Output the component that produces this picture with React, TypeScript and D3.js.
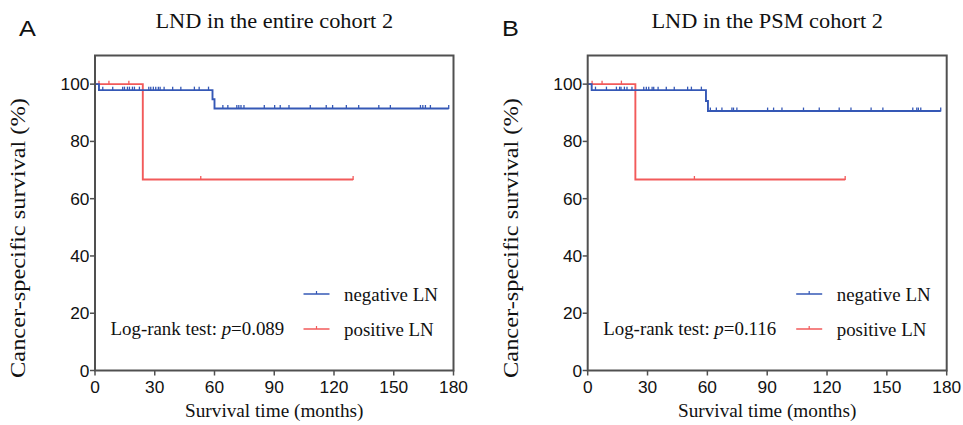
import React from "react";
import * as d3 from "d3";

const X_TICKS = [0, 30, 60, 90, 120, 150, 180];
const Y_TICKS = [0, 20, 40, 60, 80, 100];

const PANEL_LETTERS = ["A", "B"];
const PANEL_TITLES = ["LND in the entire cohort 2", "LND in the PSM cohort 2"];
const P_VALUES = ["0.089", "0.116"];
const GROUP_NAMES = ["negative LN", "positive LN"];

// Panel A
const A_NEG_TIMES = [0, 2, 59, 60];
const A_NEG_SURV = [100, 97.9, 94.7, 91.5];
const A_NEG_END = 177.6;
const A_NEG_CENSOR = [3.9, 8.9, 13.9, 14.8, 16.3, 17.3, 18.8, 19.8, 22.3, 27.0, 28.0, 29.3, 30.5, 31.8, 32.7, 34.7, 39.0, 43.1, 49.9, 52.3, 57.0, 64.2, 66.7, 71.2, 72.2, 73.3, 74.8, 85.0, 90.2, 93.0, 97.4, 108.1, 116.1, 119.3, 126.2, 132.4, 142.5, 148.3, 163.4, 164.6, 165.9, 168.4, 177.6];
const A_POS_TIMES = [0, 24];
const A_POS_SURV = [100, 66.7];
const A_POS_END = 129.6;
const A_POS_CENSOR = [2, 7, 17, 53.1, 129.6];

// Panel B
const B_NEG_TIMES = [0, 2, 59.3, 60.3];
const B_NEG_SURV = [100, 97.9, 94.1, 90.6];
const B_NEG_END = 177;
const B_NEG_CENSOR = [3.9, 9.4, 14.4, 16.0, 16.7, 18.4, 19.7, 22.2, 28.1, 29.4, 30.6, 32.3, 33.1, 35.3, 39.4, 43.4, 50.1, 52.0, 57.0, 61.5, 64.5, 67.3, 72.3, 73.1, 74.8, 90.2, 93.2, 97.4, 108.2, 116.1, 126.1, 132.0, 142.1, 148.0, 163.0, 165.0, 165.8, 167.0, 177.0];
const B_POS_TIMES = [0, 23.9];
const B_POS_SURV = [100, 66.7];
const B_POS_END = 129.1;
const B_POS_CENSOR = [2.2, 7.2, 16.9, 53.5, 129.1];

const BLUE = "#3558b6";
const RED = "#f25a5a";
const FRAME = "#505050";
const SERIF = "'Liberation Serif', 'Times New Roman', serif";
const SANS = "'Liberation Sans', Arial, sans-serif";

type Curve = { times: number[]; surv: number[]; end: number; censor: number[]; color: string };

const PANELS = [
  {
    x0: 95, x1: 453.5, letterX: 19,
    curves: [
      { times: A_POS_TIMES, surv: A_POS_SURV, end: A_POS_END, censor: A_POS_CENSOR, color: RED },
      { times: A_NEG_TIMES, surv: A_NEG_SURV, end: A_NEG_END, censor: A_NEG_CENSOR, color: BLUE },
    ] as Curve[],
  },
  {
    x0: 587.7, x1: 946.7, letterX: 502,
    curves: [
      { times: B_POS_TIMES, surv: B_POS_SURV, end: B_POS_END, censor: B_POS_CENSOR, color: RED },
      { times: B_NEG_TIMES, surv: B_NEG_SURV, end: B_NEG_END, censor: B_NEG_CENSOR, color: BLUE },
    ] as Curve[],
  },
];

const Y_TOP = 55.5;
const Y_BOT = 370.5;

function survAt(c: Curve, t: number) {
  let s = c.surv[0];
  for (let i = 0; i < c.times.length; i++) if (c.times[i] <= t) s = c.surv[i];
  return s;
}

function Panel({ idx }: { idx: number }) {
  const p = PANELS[idx];
  const x = d3.scaleLinear().domain([0, 180]).range([p.x0, p.x1]);
  const y = d3.scaleLinear().domain([0, 110]).range([Y_BOT, Y_TOP]);
  const line = d3
    .line<[number, number]>()
    .x((d) => x(d[0]))
    .y((d) => y(d[1]))
    .curve(d3.curveStepAfter);
  const cx = (p.x0 + p.x1) / 2;
  const negC = p.curves[1];
  const posC = p.curves[0];
  return (
    <g>
      <text transform={`translate(${p.letterX},35.5) scale(1.15,1)`} fontFamily={SANS} fontSize={22} fill="#111">
        {PANEL_LETTERS[idx]}
      </text>
      <text transform={`translate(${cx},28) scale(1.09,1)`} textAnchor="middle" fontFamily={SERIF} fontSize={20.5} fill="#111">
        {PANEL_TITLES[idx]}
      </text>
      {p.curves.map((c, i) => {
        const pts: [number, number][] = c.times.map((t, j) => [t, c.surv[j]] as [number, number]);
        pts.push([c.end, c.surv[c.surv.length - 1]]);
        return (
          <g key={i}>
            <path d={line(pts) || ""} fill="none" stroke={c.color} strokeWidth={1.9} />
            {c.censor.map((t, k) => {
              const yy = y(survAt(c, t));
              return <line key={k} x1={x(t)} x2={x(t)} y1={yy - 3.5} y2={yy + 0.5} stroke={c.color} strokeWidth={1.3} />;
            })}
          </g>
        );
      })}
      <rect x={p.x0} y={Y_TOP} width={p.x1 - p.x0} height={Y_BOT - Y_TOP} fill="none" stroke={FRAME} strokeWidth={2} />
      {Y_TICKS.map((v) => (
        <g key={v}>
          <line x1={p.x0 - 5} x2={p.x0} y1={y(v)} y2={y(v)} stroke={FRAME} strokeWidth={1.5} />
          <text transform={`translate(${p.x0 - 5.5},${y(v) + 6}) scale(1.05,1)`} textAnchor="end" fontFamily={SANS} fontSize={16.5} fill="#111">
            {v}
          </text>
        </g>
      ))}
      {X_TICKS.map((v) => (
        <g key={v}>
          <line x1={x(v)} x2={x(v)} y1={Y_BOT} y2={Y_BOT + 5} stroke={FRAME} strokeWidth={1.5} />
          <text transform={`translate(${x(v)},393) scale(1.05,1)`} textAnchor="middle" fontFamily={SANS} fontSize={16.5} fill="#111">
            {v}
          </text>
        </g>
      ))}
      <text transform={`translate(${cx},417) scale(1.04,1)`} textAnchor="middle" fontFamily={SERIF} fontSize={18.5} fill="#111">
        Survival time (months)
      </text>
      <text transform={`translate(${p.x0 - 70},238) rotate(-90) scale(1.22,1)`} textAnchor="middle" fontFamily={SERIF} fontSize={20} fill="#111">
        Cancer-specific survival (%)
      </text>
      <text transform={`translate(${p.x0 + 15.5},335) scale(1.05,1)`} fontFamily={SERIF} fontSize={18} fill="#111">
        Log-rank test: <tspan fontStyle="italic">p</tspan>={P_VALUES[idx]}
      </text>
      {[negC, posC].map((c, i) => {
        const ly = i === 0 ? 294 : 329;
        const lx = p.x0 + 208.5;
        return (
          <g key={i}>
            <line x1={lx} x2={lx + 26} y1={ly} y2={ly} stroke={c.color} strokeWidth={1.5} />
            <line x1={lx + 13} x2={lx + 13} y1={ly - 3} y2={ly} stroke={c.color} strokeWidth={1.2} />
            <text transform={`translate(${p.x0 + 249},${ly + 7}) scale(1.05,1)`} fontFamily={SERIF} fontSize={18} fill="#111">
              {GROUP_NAMES[i]}
            </text>
          </g>
        );
      })}
    </g>
  );
}

export default function App() {
  return (
    <svg width={963} height={425} style={{ position: "absolute", left: 0, top: 0, background: "#fff" }}>
      <rect width={963} height={425} fill="#fff" />
      <Panel idx={0} />
      <Panel idx={1} />
    </svg>
  );
}
